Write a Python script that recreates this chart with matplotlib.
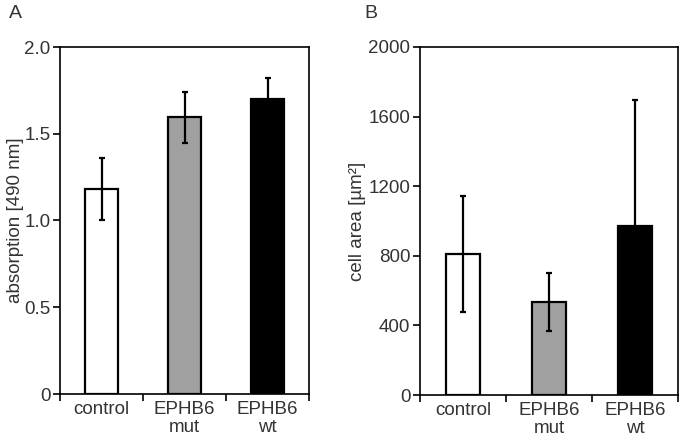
import matplotlib
matplotlib.use("Agg")
import matplotlib.pyplot as plt
import numpy as np

plt.rcParams['font.family'] = ['Liberation Sans', 'DejaVu Sans']

groups = ["control", "EPHB6\nmut", "EPHB6\nwt"]
colors = ["white", "#a0a0a0", "black"]

absorption = [1.18, 1.595, 1.70]
absorption_err = [0.18, 0.147, 0.12]

cell_area = [810, 535, 972]
cell_area_err = [335, 165, 726]

txt = "#333333"

fig = plt.figure(figsize=(6.85, 4.44), dpi=100)
axA = fig.add_axes([60 / 685, 1 - 394 / 444, 249 / 685, 347 / 444])
axB = fig.add_axes([420 / 685, 1 - 395 / 444, 258 / 685, 348 / 444])


def draw(ax, vals, errs, ylim, yticks, yticklabels, ylabel, label_x):
    x = np.arange(len(vals))
    ax.bar(x, vals, width=0.4, color=colors, edgecolor="black", linewidth=1.6, zorder=2)
    ax.errorbar(x, vals, yerr=errs, fmt="none", ecolor="black", elinewidth=1.6,
                capsize=2.5, capthick=1.6, zorder=3)
    ax.set_xlim(-0.5, 2.5)
    ax.set_ylim(*ylim)
    ax.set_yticks(yticks)
    ax.set_yticklabels(yticklabels)
    ax.set_xticks(x)
    ax.set_xticklabels(groups, linespacing=1.05)
    ax.set_xticks([-0.5, 0.5, 1.5, 2.5], minor=True)
    ax.tick_params(axis="x", which="major", length=0, pad=5, labelsize=13.5, labelcolor=txt)
    ax.tick_params(axis="x", which="minor", length=5, width=1.2, direction="out")
    ax.tick_params(axis="y", length=5, width=1.2, direction="out", pad=2,
                   labelsize=13.5, labelcolor=txt)
    ax.set_ylabel(ylabel, fontsize=13.5, color=txt)
    ax.yaxis.set_label_coords(label_x, 0.5)
    for s in ax.spines.values():
        s.set_linewidth(1.2)


draw(axA, absorption, absorption_err, (0, 2.0), [0, 0.5, 1.0, 1.5, 2.0],
     ["0", "0.5", "1.0", "1.5", "2.0"], "absorption [490 nm]", -0.145)
draw(axB, cell_area, cell_area_err, (0, 2000), [0, 400, 800, 1200, 1600, 2000],
     ["0", "400", "800", "1200", "1600", "2000"], "cell area [µm²]", -0.209)

fig.text(9 / 685, 1 - 14 / 444, "A", fontsize=14, color=txt, va="center")
fig.text(364 / 685, 1 - 14 / 444, "B", fontsize=14, color=txt, va="center")

fig.savefig("out.png", dpi=100)
